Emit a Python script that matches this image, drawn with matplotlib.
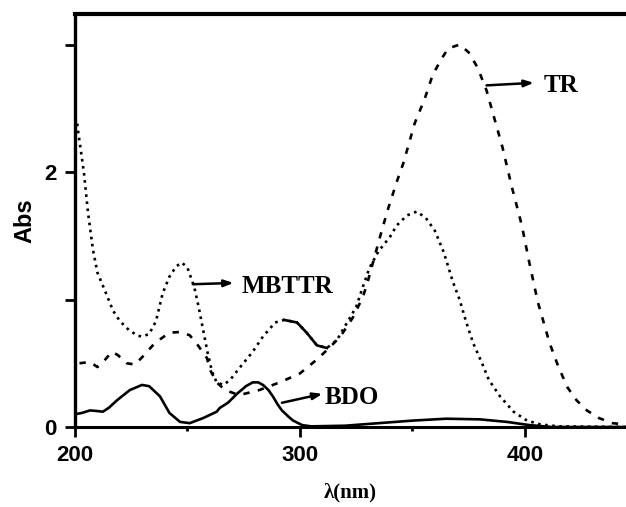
import matplotlib
matplotlib.use("Agg")
import matplotlib.pyplot as plt

# UV-vis absorption spectra
mbttr_wl = [201, 201.3, 203, 204, 205.8, 208, 210, 213.3, 217, 220, 224, 228, 230, 233, 236,
            239, 242, 245, 247.5, 250, 253, 255, 257, 259, 261, 263, 266, 269, 273, 279,
            283.6, 289, 293, 298.7, 303, 307.6, 312, 316.4, 321, 325, 328, 331, 335, 340,
            343, 347.6, 352, 356, 360, 364, 368, 371, 374, 377, 381, 384, 389, 395, 401,
            407, 415, 445]
mbttr_abs = [2.38, 2.33, 2.12, 1.99, 1.68, 1.39, 1.21, 1.07, 0.91, 0.83, 0.76, 0.715, 0.71, 0.73, 0.83,
             1.05, 1.18, 1.26, 1.29, 1.25, 1.10, 0.94, 0.76, 0.58, 0.43, 0.35, 0.33, 0.37, 0.46, 0.59,
             0.71, 0.82, 0.84, 0.82, 0.74, 0.64, 0.62, 0.68, 0.82, 0.94, 1.10, 1.25, 1.38, 1.49,
             1.58, 1.66, 1.69, 1.64, 1.54, 1.37, 1.14, 1.00, 0.82, 0.66, 0.50, 0.37, 0.24, 0.12, 0.05,
             0.02, 0.005, 0.0]

tr_wl = [202, 206.7, 210, 213, 216.4, 219, 223, 226.7, 230, 235.6, 242, 246.7, 251, 254.7,
         258.7, 260, 263, 266.7, 273, 282, 291, 300, 307.6, 313, 318, 323.6, 328, 330, 335.6,
         339, 343, 346, 351, 355.6, 359, 363, 366, 371, 375, 379, 383, 386, 390, 394, 398.7,
         402, 405.8, 411, 415, 419, 423, 427.6, 433, 439, 445]
tr_abs = [0.50, 0.51, 0.47, 0.52, 0.59, 0.565, 0.50, 0.49, 0.55, 0.66, 0.74, 0.745, 0.72, 0.64,
          0.54, 0.45, 0.35, 0.29, 0.25, 0.29, 0.35, 0.42, 0.53, 0.62, 0.71, 0.86, 1.02, 1.13, 1.49,
          1.70, 1.92, 2.07, 2.38, 2.58, 2.76, 2.89, 2.97, 3.00, 2.94, 2.82, 2.64, 2.45, 2.20, 1.90, 1.58,
          1.29, 0.98, 0.66, 0.47, 0.31, 0.21, 0.13, 0.07, 0.03, 0.02]

bdo_wl = [200, 203, 206.7, 210, 212.4, 215, 218.7, 224.4, 229.8, 233, 237.8, 242, 246.7, 251,
          257, 263, 264.4, 268, 272, 276, 279, 281.5, 283.6, 286, 288, 290, 292, 295, 297, 301,
          305, 320, 335, 350, 365, 380, 392, 402, 412, 445]
bdo_abs = [0.10, 0.11, 0.13, 0.125, 0.12, 0.15, 0.21, 0.29, 0.33, 0.32, 0.24, 0.11, 0.04, 0.03,
           0.07, 0.12, 0.15, 0.19, 0.26, 0.32, 0.35, 0.35, 0.33, 0.29, 0.24, 0.18, 0.13, 0.08, 0.05, 0.015,
           0.005, 0.01, 0.03, 0.05, 0.065, 0.06, 0.04, 0.015, 0.0, 0.0]

# labelled arrows: (text, arrow tail (wl, abs), arrow head (wl, abs), text anchor (wl, abs))
labels = [
    ("TR", (383, 2.68), (404, 2.70), (408.5, 2.68)),
    ("MBTTR", (252.4, 1.12), (270.5, 1.13), (274.0, 1.10)),
    ("BDO", (292, 0.19), (310, 0.26), (311.0, 0.23)),
]

fig = plt.figure(figsize=(6.26, 5.07), dpi=100)
ax = fig.add_axes([0.1198, 0.1578, 0.8802, 0.8146])

lw = 1.9
common = dict(color="black", lw=lw, solid_joinstyle="round", dash_joinstyle="round")
ax.plot(mbttr_wl, mbttr_abs, linestyle=(0, (1.0, 1.7)), **common)
# shoulder segment around 290-313 nm rendered as a continuous trace
seg = [(w, a) for w, a in zip(mbttr_wl, mbttr_abs) if 290 <= w <= 313]
ax.plot([s[0] for s in seg], [s[1] for s in seg], **common)
ax.plot(tr_wl, tr_abs, linestyle=(0, (2.4, 3.2)), **common)
ax.plot(bdo_wl, bdo_abs, **common)

for text, tail, head, anchor in labels:
    ax.annotate("", xy=head, xytext=tail,
                arrowprops=dict(arrowstyle="-|>,head_length=0.55,head_width=0.2",
                                color="black", lw=1.8, shrinkA=0, shrinkB=0))
    ax.text(anchor[0], anchor[1], text, fontsize=18, family="Liberation Serif",
            weight="bold", ha="left", va="center")

ax.set_xlim(200, 445)
ax.set_ylim(0, 3.24)

ax.set_xticks([200, 300, 400])
ax.set_xticklabels(["200", "300", "400"])
ax.set_xticks([250, 350], minor=True)
ax.set_yticks([0, 1, 2, 3])
ax.set_yticklabels(["0", "", "2", ""])

for lab in ax.get_xticklabels() + ax.get_yticklabels():
    lab.set_fontfamily("Liberation Sans")
    lab.set_fontweight("bold")
    lab.set_fontsize(16)

ax.tick_params(axis="both", which="major", direction="out", length=7, width=2.0, pad=6)
ax.tick_params(axis="x", which="minor", direction="out", length=3, width=2.0)
ax.tick_params(top=False, right=False)

ax.spines["right"].set_visible(False)
ax.spines["top"].set_linewidth(3.0)
ax.spines["left"].set_linewidth(2.4)
ax.spines["bottom"].set_linewidth(2.2)

ax.set_xlabel("λ(nm)", fontsize=15, family="Liberation Serif", weight="bold", labelpad=12)
ax.set_ylabel("Abs", fontsize=17, family="Liberation Sans", weight="bold", labelpad=6)

fig.savefig("out.png", dpi=100)
